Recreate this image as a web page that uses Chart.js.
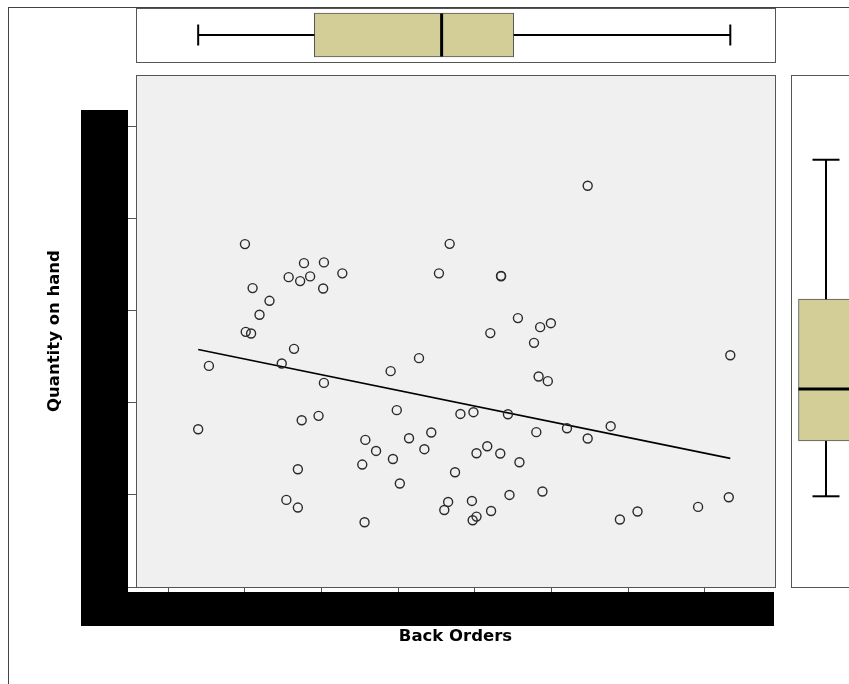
<!DOCTYPE html>
<html>
<head>
<meta charset="utf-8">
<script src="https://cdn.jsdelivr.net/npm/chart.js@4.4.1/dist/chart.umd.min.js"></script>
<style>
  html, body { margin:0; padding:0; background:#fff; width:849px; height:684px; overflow:hidden; }
  .abs { position:absolute; }
  #frame { left:8px; top:7px; width:900px; height:700px; border-left:1px solid #444; border-top:1px solid #444; }
  #topPanel { left:136px; top:8px; width:640px; height:55px; box-sizing:border-box; border:1px solid #555; background:#fff; }
  #rightPanel { left:791px; top:75px; width:71px; height:513px; box-sizing:border-box; border:1px solid #555; background:#fff; }
  .blk { background:#000; }
</style>
</head>
<body>
<div id="frame" class="abs"></div>
<canvas id="main" class="abs" style="left:0;top:0" width="849" height="684"></canvas>
<div id="topPanel" class="abs"></div>
<canvas id="topBox" class="abs" style="left:136px;top:8px" width="639" height="54"></canvas>
<div id="rightPanel" class="abs"></div>
<canvas id="rightBox" class="abs" style="left:791px;top:49px" width="70" height="512"></canvas>
<div class="abs blk" style="left:81px;top:110px;width:47px;height:516px"></div>
<div class="abs blk" style="left:81px;top:592px;width:693px;height:34px"></div>
<script>
// ---- data ----
const backOrders = [13.9,15.3,20.0,20.1,20.8,21.0,21.9,23.2,24.8,25.7,25.4,26.4,26.9,26.9,27.2,27.4,27.7,28.5,29.6,30.2,
  30.3,30.3,32.7,35.3,35.7,35.6,37.1,39.0,39.3,39.8,40.2,41.4,42.7,43.4,44.3,45.3,46.0,46.5,46.7,47.4,
  48.1,49.6,49.7,49.8,50.2,50.2,51.6,52.0,52.1,53.3,53.4,53.4,54.3,54.5,55.6,55.8,57.7,58.0,58.3,58.5,
  58.8,59.5,59.9,62.0,64.7,64.7,67.7,68.9,71.2,79.1,83.1,83.3];
const quantityOnHand = [171.4,240.2,372.5,277.2,275.4,324.7,295.7,310.9,242.8,336.6,94.6,258.7,127.9,86.3,332.3,181.2,351.8,337.4,185.9,324.3,
  352.6,221.7,340.7,133.0,159.8,70.3,147.8,234.5,139.1,192.1,112.4,161.6,248.6,149.7,167.8,340.7,83.7,92.4,372.8,124.7,
  188.0,93.5,72.5,189.9,76.5,145.3,152.9,275.8,82.6,145.0,338.0,337.5,187.7,100.0,292.1,135.5,265.2,168.2,228.7,282.3,
  103.7,223.6,286.6,172.5,161.3,435.9,174.7,73.3,82.0,87.0,97.5,251.8];
const xTicks = [10,20,30,40,50,60,70,80];
const yTicks = [0,100,200,300,400,500];
const xTitle = 'Back Orders';
const yTitle = 'Quantity on hand';
const X_MIN = 5.79, X_MAX = 89.13;
const Y_MIN = 0, Y_MAX = 556.2;

// ---- statistics ----
function median(a){ const m=a.length; return m%2 ? a[(m-1)/2] : (a[m/2-1]+a[m/2])/2; }
function tukey(vals){
  const s=[...vals].sort((a,b)=>a-b), n=s.length;
  const q1=median(s.slice(0,Math.ceil(n/2))), q3=median(s.slice(Math.floor(n/2)));
  const iqr=q3-q1;
  const lo=s.find(v=>v>=q1-1.5*iqr), hi=[...s].reverse().find(v=>v<=q3+1.5*iqr);
  return {q1, q3, med: median(s), lo, hi};
}
const mx = backOrders.reduce((a,b)=>a+b,0)/backOrders.length;
const my = quantityOnHand.reduce((a,b)=>a+b,0)/quantityOnHand.length;
let sxy=0, sxx=0;
backOrders.forEach((x,i)=>{ sxy+=(x-mx)*(quantityOnHand[i]-my); sxx+=(x-mx)*(x-mx); });
const slope = sxy/sxx, icpt = my - slope*mx;
const xMinD = Math.min(...backOrders), xMaxD = Math.max(...backOrders);

const GRAY = '#555';
const BOX_FILL = '#D3CE98';
const titleFont = {family:'DejaVu Sans', size:16.5, weight:'bold'};

const frameArea = {
  id:'frameArea',
  beforeDraw(c){ const {ctx, chartArea:a}=c; ctx.save(); ctx.fillStyle='#F0F0F0'; ctx.fillRect(a.left,a.top,a.right-a.left,a.bottom-a.top); ctx.restore(); },
  afterDraw(c){ const {ctx, chartArea:a}=c; ctx.save(); ctx.strokeStyle=GRAY; ctx.lineWidth=1; ctx.strokeRect(a.left+0.5,a.top+0.5,a.right-a.left,a.bottom-a.top); ctx.restore(); }
};

new Chart(document.getElementById('main'), {
  type:'scatter',
  data:{ datasets:[
    { data: backOrders.map((x,i)=>({x, y:quantityOnHand[i]})), pointRadius:4.5, pointHoverRadius:4.5,
      pointBorderWidth:1.4, borderColor:'#2a2a2a', backgroundColor:'rgba(0,0,0,0)' },
    { data:[{x:xMinD, y:icpt+slope*xMinD},{x:xMaxD, y:icpt+slope*xMaxD}], showLine:true, pointRadius:0,
      borderColor:'#000', borderWidth:1.6 }
  ]},
  options:{
    responsive:false, animation:false, devicePixelRatio:1,
    layout:{ padding:{top:75, right:74, left:0, bottom:0} },
    plugins:{ legend:{display:false}, tooltip:{enabled:false} },
    scales:{
      x:{ type:'linear', min:X_MIN, max:X_MAX,
          afterBuildTicks(s){ s.ticks = xTicks.map(v=>({value:v})); },
          afterFit(s){ s.height = 97; },
          ticks:{display:false},
          grid:{drawOnChartArea:false, drawTicks:true, tickLength:8, color:GRAY},
          border:{display:true, color:GRAY},
          title:{display:true, text:xTitle, font:titleFont, color:'#000', padding:{top:0,bottom:37.1}} },
      y:{ type:'linear', min:Y_MIN, max:Y_MAX,
          afterBuildTicks(s){ s.ticks = yTicks.map(v=>({value:v})); },
          afterFit(s){ s.width = 136; },
          ticks:{display:false},
          grid:{drawOnChartArea:false, drawTicks:true, tickLength:8, color:GRAY},
          border:{display:true, color:GRAY},
          title:{display:true, text:yTitle, font:titleFont, color:'#000', padding:{top:44.6,bottom:0}} }
    }
  },
  plugins:[frameArea]
});

function lineDs(pts, w){ return {type:'line', order:0, data:pts, borderColor:'#000', borderWidth:w, pointRadius:0, fill:false, tension:0}; }

// top boxplot (Back Orders)
const bx = tukey(backOrders);
const TB_HALF = 21.5/27, TB_CAP = 10.5/27;
new Chart(document.getElementById('topBox'), {
  type:'bar',
  data:{ datasets:[
    lineDs([{x:bx.lo,y:0},{x:bx.q1,y:0}],2),
    lineDs([{x:bx.q3,y:0},{x:bx.hi,y:0}],2),
    lineDs([{x:bx.lo,y:-TB_CAP},{x:bx.lo,y:TB_CAP}],2),
    lineDs([{x:bx.hi,y:-TB_CAP},{x:bx.hi,y:TB_CAP}],2),
    { type:'bar', order:5, indexAxis:'y', data:[{y:0, x:[bx.q1,bx.q3]}], barThickness:44, backgroundColor:BOX_FILL,
      borderColor:GRAY, borderWidth:1, borderSkipped:false },
    lineDs([{x:bx.med,y:-TB_HALF},{x:bx.med,y:TB_HALF}],3)
  ]},
  options:{
    responsive:false, animation:false, devicePixelRatio:1,
    layout:{padding:0},
    plugins:{legend:{display:false}, tooltip:{enabled:false}},
    scales:{ x:{type:'linear', min:X_MIN, max:X_MAX, offset:false, display:false},
             y:{type:'linear', min:-1, max:1, offset:false, display:false} }
  }
});

// right boxplot (Quantity on hand)
const by = tukey(quantityOnHand);
const RB_HALF = 27.5/35, RB_CAP = 13.5/35;
new Chart(document.getElementById('rightBox'), {
  type:'bar',
  data:{ datasets:[
    lineDs([{x:0,y:by.lo},{x:0,y:by.q1}],2),
    lineDs([{x:0,y:by.q3},{x:0,y:by.hi}],2),
    lineDs([{x:-RB_CAP,y:by.lo},{x:RB_CAP,y:by.lo}],2),
    lineDs([{x:-RB_CAP,y:by.hi},{x:RB_CAP,y:by.hi}],2),
    { type:'bar', order:5, data:[{x:0, y:[by.q1,by.q3]}], barThickness:55, backgroundColor:BOX_FILL,
      borderColor:GRAY, borderWidth:1, borderSkipped:false },
    lineDs([{x:-RB_HALF,y:by.med},{x:RB_HALF,y:by.med}],3)
  ]},
  options:{
    responsive:false, animation:false, devicePixelRatio:1,
    layout:{padding:0},
    plugins:{legend:{display:false}, tooltip:{enabled:false}},
    scales:{ x:{type:'linear', min:-1, max:1, offset:false, display:false},
             y:{type:'linear', min:Y_MIN, max:Y_MAX, offset:false, display:false} }
  }
});
</script>
</body>
</html>
